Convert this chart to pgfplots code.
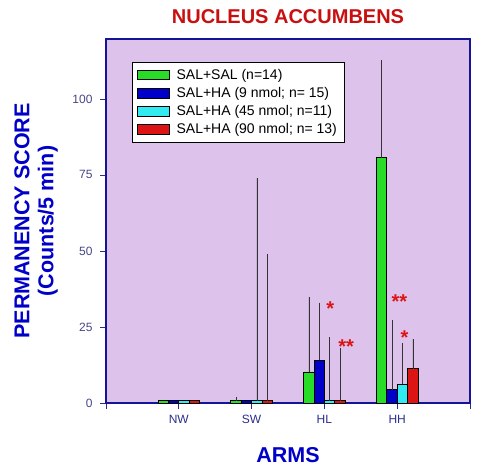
\documentclass[border=0pt]{standalone}
\usepackage{pgfplots}
\pgfplotsset{compat=1.18}
\usepackage{fontspec}
\setmainfont{Liberation Sans}
\definecolor{bgviolet}{RGB}{221,194,236}
\definecolor{axblue}{RGB}{20,20,150}
\definecolor{tickblue}{RGB}{45,45,140}
\definecolor{titlered}{RGB}{200,16,16}
\definecolor{barGreen}{RGB}{40,220,40}
\definecolor{barBlue}{RGB}{0,0,200}
\definecolor{barCyan}{RGB}{50,235,240}
\definecolor{barRed}{RGB}{220,20,20}

% upper error bars only, given as plus lengths
\pgfplotstableread{
x  g    ge    b    be    c    ce    r    re
1  0.8  0     0.8  0     0.8  0     0.8  0
2  0.8  1.2   0.8  0     0.8  73.2  0.8  48.2
3  10.2 24.7  14.1 18.9  0.8  20.9  0.8  17.2
4  80.6 32.2  4.3  23.0  6.2  13.5  11.2 9.8
}\datatable

\begin{document}
\begin{tikzpicture}
\path (-106pt,-70pt) rectangle (394pt,403pt);
\begin{axis}[
    at={(0,0)}, anchor=south west,
    scale only axis,
    width=364pt, height=364pt,
    xmin=0, xmax=5, ymin=0, ymax=119.7,
    ybar=0pt, bar width=10.4pt,
    axis background/.style={fill=bgviolet},
    axis line style={axblue, line width=1.4pt},
    xtick={0,1,2,3,4,5},
    xticklabels={,NW,SW,HL,HH,},
    ytick={0,25,50,75,100},
    tick align=outside,
    major tick length=6pt,
    tick style={tickblue, line width=0.8pt},
    xtick pos=bottom, ytick pos=left,
    tick label style={font=\fontsize{12}{14}\selectfont, text=tickblue},
    xticklabel style={yshift=-3pt},
    yticklabel style={text=tickblue!70!gray, xshift=-4pt},
    /pgf/number format/assume math mode=true,
    error bars/y dir=plus, error bars/y explicit,
    error bars/error mark=none,
    error bars/error bar style={black!80, line width=0.6pt},
    every axis plot/.append style={draw=black, line width=0.9pt},
    legend style={at={(rel axis cs:0.071,0.937)}, anchor=north west,
        draw=black, line width=0.6pt, fill=white,
        font=\fontsize{14}{16}\selectfont,
        inner xsep=5pt, inner ysep=5pt, row sep=2.5pt},
    legend cell align=left,
    legend image code/.code={\draw[#1, line width=0.9pt] (0pt,-4.8pt) rectangle (32pt,4.8pt);
        \path[draw=none, fill=none] (0pt,0pt) rectangle (37pt,0.1pt);},
    clip=false,
]
\addplot[fill=barGreen] table[x=x, y=g, y error=ge] {\datatable};
\addplot[fill=barBlue] table[x=x, y=b, y error=be] {\datatable};
\addplot[fill=barCyan] table[x=x, y=c, y error=ce] {\datatable};
\addplot[fill=barRed] table[x=x, y=r, y error=re] {\datatable};
\legend{SAL+SAL (n=14),SAL+HA (9 nmol; n= 15),SAL+HA (45 nmol; n=11),SAL+HA (90 nmol; n= 13)}

\node[text=titlered, font=\fontsize{20}{22}\selectfont\bfseries] at ([yshift=22pt]rel axis cs:0.5,1) {NUCLEUS ACCUMBENS};
\node[text=barBlue, font=\fontsize{21.5}{24}\selectfont\bfseries, rotate=90, align=center] at ([xshift=-70pt]rel axis cs:0,0.5) {PERMANENCY SCORE\\(Counts/5 min)};
\node[text=barBlue, font=\fontsize{21.5}{23}\selectfont\bfseries] at ([yshift=-52pt]rel axis cs:0.5,0) {ARMS};
\node[text=barRed, font=\fontsize{20}{20}\selectfont\bfseries] at (axis cs:3.08,31) {*};
\node[text=barRed, font=\fontsize{20}{20}\selectfont\bfseries] at (axis cs:3.3,18.5) {**};
\node[text=barRed, font=\fontsize{20}{20}\selectfont\bfseries] at (axis cs:4.03,33.5) {**};
\node[text=barRed, font=\fontsize{20}{20}\selectfont\bfseries] at (axis cs:4.1,21.5) {*};
\end{axis}
\end{tikzpicture}
\end{document}
